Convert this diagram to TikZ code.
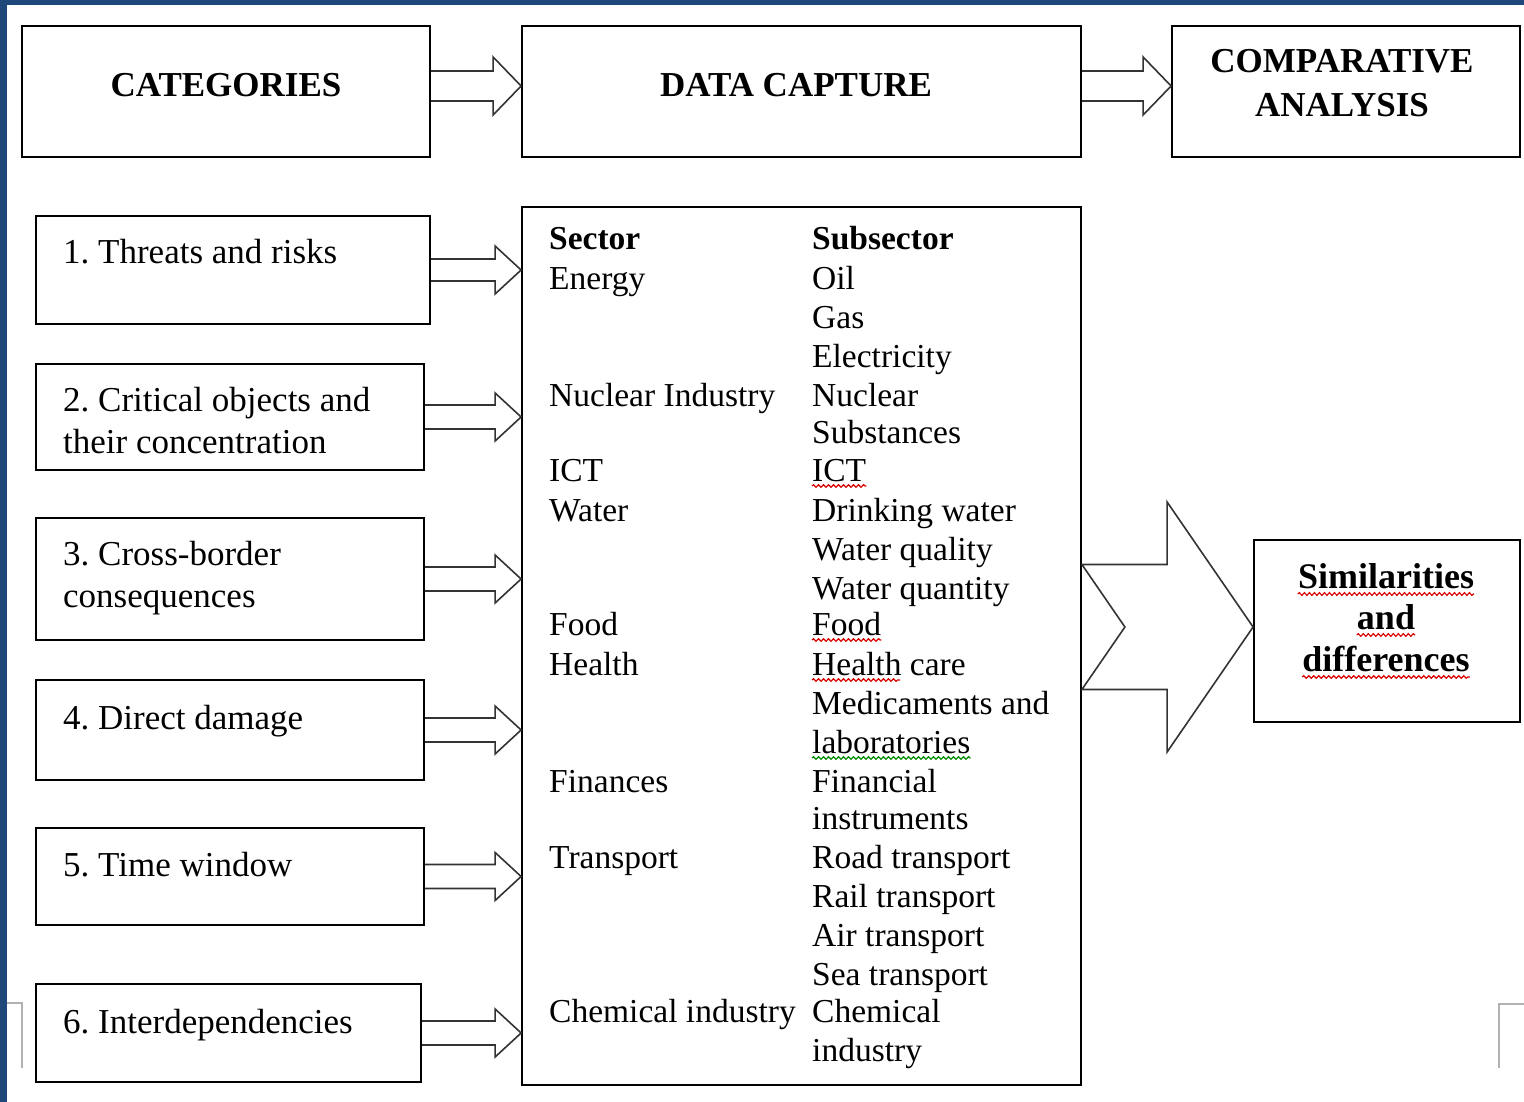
\documentclass[tikz,border=0pt]{standalone}
\usepackage{fontspec}
\setmainfont{Liberation Serif}
\usetikzlibrary{calc,decorations.pathmorphing}
\frenchspacing

\definecolor{frameblue}{RGB}{31,72,122}

\tikzset{
  box/.style={rectangle,draw=black,line width=1.8pt,inner sep=0pt},
  cattext/.style={font=\fontsize{35}{42}\selectfont,align=left,inner sep=0pt},
  headtext/.style={font=\bfseries\fontsize{35}{44}\selectfont,align=center,inner sep=0pt},
  simtext/.style={font=\bfseries\fontsize{36}{42}\selectfont,anchor=base,inner sep=0pt},
  tabtext/.style={font=\fontsize{33.5}{39}\selectfont,anchor=base west,inner sep=0pt},
  tabhead/.style={tabtext,font=\bfseries\fontsize{33.5}{39}\selectfont},
  arrowline/.style={draw=black!80,line width=1.6pt,line join=miter},
  spellred/.style={draw=red!85!black,line width=1.2pt,decorate,
    decoration={snake,amplitude=1.3pt,segment length=5pt}},
  spellgreen/.style={spellred,draw=green!55!black},
  cropmark/.style={draw=black!30,line width=2pt},
}

% hollow block arrow: start point, target node, half shaft, half head, head length
\newcommand{\hollowarrow}[5]{%
  \draw[arrowline] let \p1=(#1), \p2=(#2.west) in
    (\x1,\y1+#3) -- (\x2-#5,\y1+#3) -- (\x2-#5,\y1+#4) -- (\x2,\y1)
    -- (\x2-#5,\y1-#4) -- (\x2-#5,\y1-#3) -- (\x1,\y1-#3);}

\begin{document}
\begin{tikzpicture}[x=1pt,y=-1pt]
\useasboundingbox (0,0) rectangle (1524,1102);
\fill[white] (0,0) rectangle (1524,1102);
\fill[frameblue] (0,0) rectangle (1524,5);
\fill[frameblue] (0,0) rectangle (7,1102);
\draw[cropmark] (7,1003) -- (22,1003) -- (22,1068);
\draw[cropmark] (1524,1004) -- (1499,1004) -- (1499,1068);

% top row
\node[box,minimum width=408,minimum height=131] (cat) at (226,91.5){};
\node[box,minimum width=559,minimum height=131] (cap) at (801.5,91.5){};
\node[box,minimum width=348,minimum height=131] (comp) at (1346,91.5){};
\node[headtext,anchor=base] (catT) at (226,97) {CATEGORIES};
\node[headtext,anchor=base] (capT) at (796,97) {DATA CAPTURE};
\node[headtext] (compT) at (1342,83) {COMPARATIVE\\ANALYSIS};

\hollowarrow{[yshift=5.5pt]cat.east}{cap}{15pt}{29pt}{28pt}
\hollowarrow{[yshift=5.5pt]cap.east}{comp}{15pt}{29pt}{28pt}

% categories
\node[box,minimum width=394,minimum height=108] (c1) at (233,270){};
\node[box,minimum width=388,minimum height=106] (c2) at (230,417){};
\node[box,minimum width=388,minimum height=122] (c3) at (230,579){};
\node[box,minimum width=388,minimum height=100] (c4) at (230,730){};
\node[box,minimum width=388,minimum height=97] (c5) at (230,876.5){};
\node[box,minimum width=385,minimum height=98] (c6) at (228.5,1033){};

\node[cattext,anchor=base west] (t1) at (63,264) {1. Threats and risks};
\node[cattext,anchor=west] (t2) at (63,421) {2. Critical objects and\\their concentration};
\node[cattext,anchor=west] (t3) at (63,578) {3. Cross-border\\consequences};
\node[cattext,anchor=base west] (t4) at (63,729) {4. Direct damage};
\node[cattext,anchor=base west] (t5) at (63,876) {5. Time window};
\node[cattext,anchor=base west] (t6) at (63,1033) {6. Interdependencies};

% sector table
\node[box,minimum width=559,minimum height=878] (tab) at (801.5,646){};
\node[tabhead] (secH) at (549,250) {Sector};
\node[tabhead] (subH) at (812,250) {Subsector};
\foreach \y/\txt [count=\i] in {289/Energy,406/Nuclear Industry,481/ICT,521/Water,
    635/Food,675/Health,792/Finances,868/Transport,1022/Chemical industry}
  \node[tabtext] (sec\i) at (549,\y) {\txt};
\foreach \y/\txt [count=\i] in {289/Oil,328/Gas,367/Electricity,406/Nuclear,443/Substances,
    481/ICT,521/Drinking water,560/Water quality,599/Water quantity,635/Food,
    675/Health care,714/Medicaments and,753/laboratories,792/Financial,829/instruments,
    868/Road transport,907/Rail transport,946/Air transport,985/Sea transport,
    1022/Chemical,1061/industry}
  \node[tabtext] (sub\i) at (812,\y) {\txt};

\draw[spellred] ($(sub6.base west)+(0,5)$) -- ($(sub6.base east)+(0,5)$);
\draw[spellred] ($(sub10.base west)+(0,5)$) -- ($(sub10.base east)+(0,5)$);
\draw[spellred] ($(sub11.base west)+(0,5)$) -- ($(sub11.base west)+(88,5)$);
\draw[spellgreen] ($(sub13.base west)+(0,5)$) -- ($(sub13.base east)+(0,5)$);

\hollowarrow{c1.east}{tab}{11pt}{24pt}{26pt}
\hollowarrow{c2.east}{tab}{12pt}{24pt}{26pt}
\hollowarrow{c3.east}{tab}{12pt}{24pt}{26pt}
\hollowarrow{c4.east}{tab}{12pt}{24pt}{26pt}
\hollowarrow{c5.east}{tab}{12pt}{24pt}{26pt}
\hollowarrow{c6.east}{tab}{12pt}{24pt}{26pt}

% result
\node[box,minimum width=266,minimum height=182] (sim) at (1387,631){};
\node[simtext] (sim1) at (1386,588) {Similarities};
\node[simtext] (sim2) at (1386,629) {and};
\node[simtext] (sim3) at (1386,671) {differences};
\foreach \s in {sim1,sim2,sim3}
  \draw[spellred] ($(\s.base west)+(0,6)$) -- ($(\s.base east)+(0,6)$);

\draw[arrowline] let \p1=(tab.east), \p2=([yshift=4pt]sim.west) in
  (\x1,\y2+62.5) -- (\x2-86,\y2+62.5) -- (\x2-86,\y2+125) -- (\x2,\y2)
  -- (\x2-86,\y2-125) -- (\x2-86,\y2-62.5) -- (\x1,\y2-62.5) -- (\x1+43,\y2) -- cycle;
\end{tikzpicture}
\end{document}
